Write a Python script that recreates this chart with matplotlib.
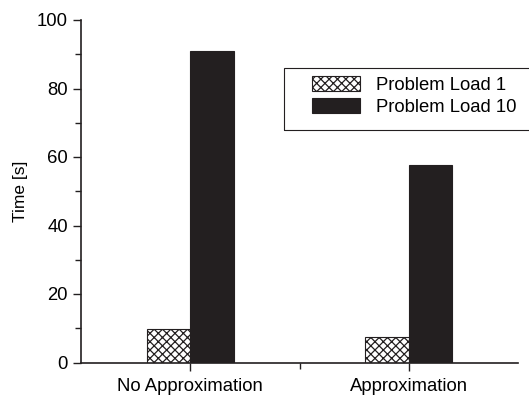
import matplotlib
matplotlib.use('Agg')
import matplotlib.pyplot as plt
import numpy as np
from matplotlib.ticker import MultipleLocator, FixedLocator
from matplotlib.patches import Rectangle

plt.rcParams['font.family'] = ['Liberation Sans', 'DejaVu Sans']
plt.rcParams['hatch.linewidth'] = 0.9

categories = ['No Approximation', 'Approximation']
load_1 = [9.7, 7.3]
load_10 = [91.0, 57.7]
series_names = ['Problem Load 1', 'Problem Load 10']

bar_color = '#231f20'
W, H = 529, 395

fig = plt.figure(figsize=(W / 100, H / 100), dpi=100)
ax = fig.add_axes([81 / W, 1 - 362.5 / H, (518 - 81) / W, (362.5 - 20) / H])

x = np.arange(len(categories))
width = 0.2
ax.bar(x - width, load_1, width, align='edge', color='white', edgecolor=bar_color,
       hatch='xxxx', linewidth=0.8, label=series_names[0])
ax.bar(x, load_10, width, align='edge', color=bar_color, edgecolor=bar_color,
       linewidth=0.8, label=series_names[1])

ax.set_xlim(-0.5, 1.5)
ax.set_ylim(0, 100)
ax.set_xticks(x)
ax.set_xticklabels(categories)
ax.xaxis.set_minor_locator(FixedLocator([0.5]))
ax.yaxis.set_major_locator(MultipleLocator(20))
ax.yaxis.set_minor_locator(MultipleLocator(10))
ax.tick_params(which='major', length=6, width=1, labelsize=13.3, color=bar_color)
ax.tick_params(which='minor', length=4, width=1, color=bar_color)
ax.tick_params(axis='x', pad=5)
ax.set_ylabel('Time [s]', fontsize=12.5, labelpad=6)

for side in ['top', 'right']:
    ax.spines[side].set_visible(False)
for side in ['left', 'bottom']:
    ax.spines[side].set_linewidth(1.2)
    ax.spines[side].set_color(bar_color)

# legend entries without frame, frame drawn separately (open on the right)
leg = ax.legend(loc='upper left', bbox_to_anchor=(312 / W, 1 - 76 / H),
                bbox_transform=fig.transFigure, fontsize=13.3, frameon=False,
                handlelength=2.6, handleheight=0.9, borderpad=0,
                labelspacing=0.2, handletextpad=0.85, borderaxespad=0)
frame = Rectangle((284 / W, 1 - 130 / H), 0.5, (130 - 68) / H, transform=fig.transFigure,
                  fill=False, edgecolor=bar_color, linewidth=0.8)
fig.add_artist(frame)

fig.savefig('out.png', dpi=100)
